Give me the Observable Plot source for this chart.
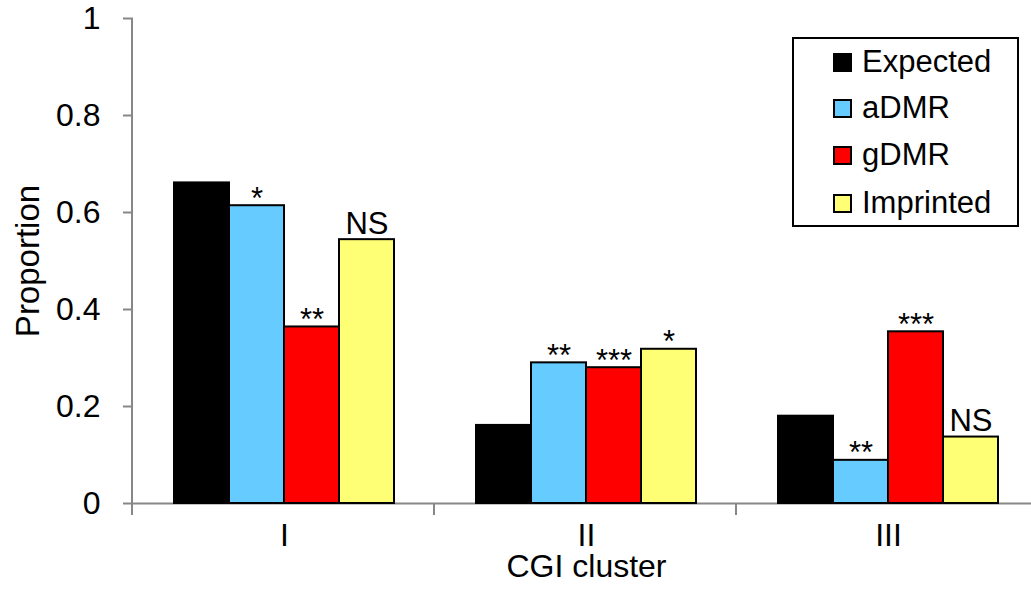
<!DOCTYPE html>
<html>
<head>
<meta charset="utf-8">
<script src="https://cdn.jsdelivr.net/npm/d3@7"></script>
<script src="https://cdn.jsdelivr.net/npm/@observablehq/plot@0.6"></script>
<style>
  body { margin: 0; background: #fff; font-family: Arial, "Liberation Sans", sans-serif; }
  #wrap { position: relative; width: 1031px; height: 592px; overflow: hidden; }
  #legend { position: absolute; left: 792px; top: 37px; width: 223px; height: 186px; border: 2px solid #000; background: #fff; }
  .row { position: absolute; left: 0; height: 31px; line-height: 31px; font-size: 31px; white-space: nowrap; }
  .sw { position: absolute; left: 39px; top: 7px; width: 19px; height: 19px; box-sizing: border-box; }
  .lb { position: absolute; left: 68px; top: 0; color: #000; }
</style>
</head>
<body>
<div id="wrap"><div id="chart"></div><div id="legend"></div></div>
<script>
// ---- data ----
const clusters = ["I", "II", "III"];
const series = ["Expected", "aDMR", "gDMR", "Imprinted"];
const colors = ["#000000", "#66CCFF", "#FF0000", "#FFFF75"];
const valuesI   = [0.661, 0.614, 0.364, 0.544];
const valuesII  = [0.161, 0.290, 0.280, 0.318];
const valuesIII = [0.180, 0.089, 0.354, 0.137];
const labelsI   = ["", "*", "**", "NS"];
const labelsII  = ["", "**", "***", "*"];
const labelsIII = ["", "**", "***", "NS"];
const yTicks = [0, 0.2, 0.4, 0.6, 0.8, 1];
const yLabel = "Proportion";
const xLabel = "CGI cluster";

const valueRows = [valuesI, valuesII, valuesIII];
const labelRows = [labelsI, labelsII, labelsIII];
const data = [];
clusters.forEach((c, ci) => series.forEach((s, si) => {
  data.push({cluster: c, series: s, value: valueRows[ci][si], label: labelRows[ci][si]});
}));

const font = 'Arial, "Liberation Sans", sans-serif';
const axisGray = "#878787";

const chart = Plot.plot({
  width: 1031,
  height: 592,
  marginLeft: 132,
  marginRight: -9,
  marginTop: 18,
  marginBottom: 89,
  style: {fontFamily: font, fontSize: "31px", background: "white", color: "black"},
  fx: {domain: clusters, padding: 0, axis: null},
  x: {domain: series, paddingInner: 0, paddingOuter: 0.74, axis: null},
  y: {domain: [0, 1], axis: null},
  color: {domain: series, range: colors},
  marks: [
    Plot.ruleY([0], {stroke: axisGray, strokeWidth: 2}),
    Plot.barY(data, {fx: "cluster", x: "series", y: "value", fill: "series", stroke: "#000", strokeWidth: 2}),
    Plot.text(data.filter(d => d.label === "NS"), {fx: "cluster", x: "series", y: "value", text: "label", lineAnchor: "bottom", dy: -6, fontSize: 31, fill: "#000"}),
    Plot.text(data.filter(d => d.label && d.label !== "NS"), {fx: "cluster", x: "series", y: "value", text: "label", lineAnchor: "bottom", dy: 3, fontSize: 31, fill: "#000"}),
    Plot.axisY({ticks: yTicks, tickSize: 10, tickPadding: 23, tickFormat: d => String(d), fontSize: 32,
      stroke: axisGray, strokeWidth: 2, fill: "#000", label: null}),
    Plot.axisY({ticks: [], tickSize: 0, fontSize: 33, fill: "#000",
      label: yLabel, labelAnchor: "center", labelArrow: "none", labelOffset: 118}),
    Plot.axisFx({anchor: "bottom", tickSize: 0, tickPadding: 20, fontSize: 32, fill: "#000", label: null}),
    Plot.axisFx({anchor: "bottom", ticks: [], tickSize: 0, fontSize: 32, fill: "#000",
      label: xLabel, labelAnchor: "center", labelArrow: "none", labelOffset: 73})
  ]
});
document.getElementById("chart").appendChild(chart);

// axis line and category boundary ticks from the plot's own scales
const fxS = chart.scale("fx");
const yS = chart.scale("y");
const yPix = v => yS.apply ? yS.apply(v) : yS.range[0] + (v - yS.domain[0]) / (yS.domain[1] - yS.domain[0]) * (yS.range[1] - yS.range[0]);
const x0 = fxS.range[0];
const step = fxS.step || fxS.bandwidth;
const yTop = yPix(1), yBot = yPix(0);
const g = d3.select(chart).append("g").attr("stroke", axisGray).attr("stroke-width", 2);
g.append("line").attr("x1", x0).attr("x2", x0).attr("y1", yTop).attr("y2", yBot + 12);
d3.range(1, clusters.length + 1).forEach(i => {
  g.append("line").attr("x1", x0 + i * step).attr("x2", x0 + i * step).attr("y1", yBot).attr("y2", yBot + 12);
});

// legend
const legend = d3.select("#legend");
const rowTops = [7, 53, 100, 148];
series.forEach((s, i) => {
  const row = legend.append("div").attr("class", "row").style("top", rowTops[i] + "px");
  row.append("div").attr("class", "sw")
    .style("background", colors[i])
    .style("border", i === 0 ? "none" : "2px solid #000");
  row.append("div").attr("class", "lb").text(s);
});
</script>
</body>
</html>
